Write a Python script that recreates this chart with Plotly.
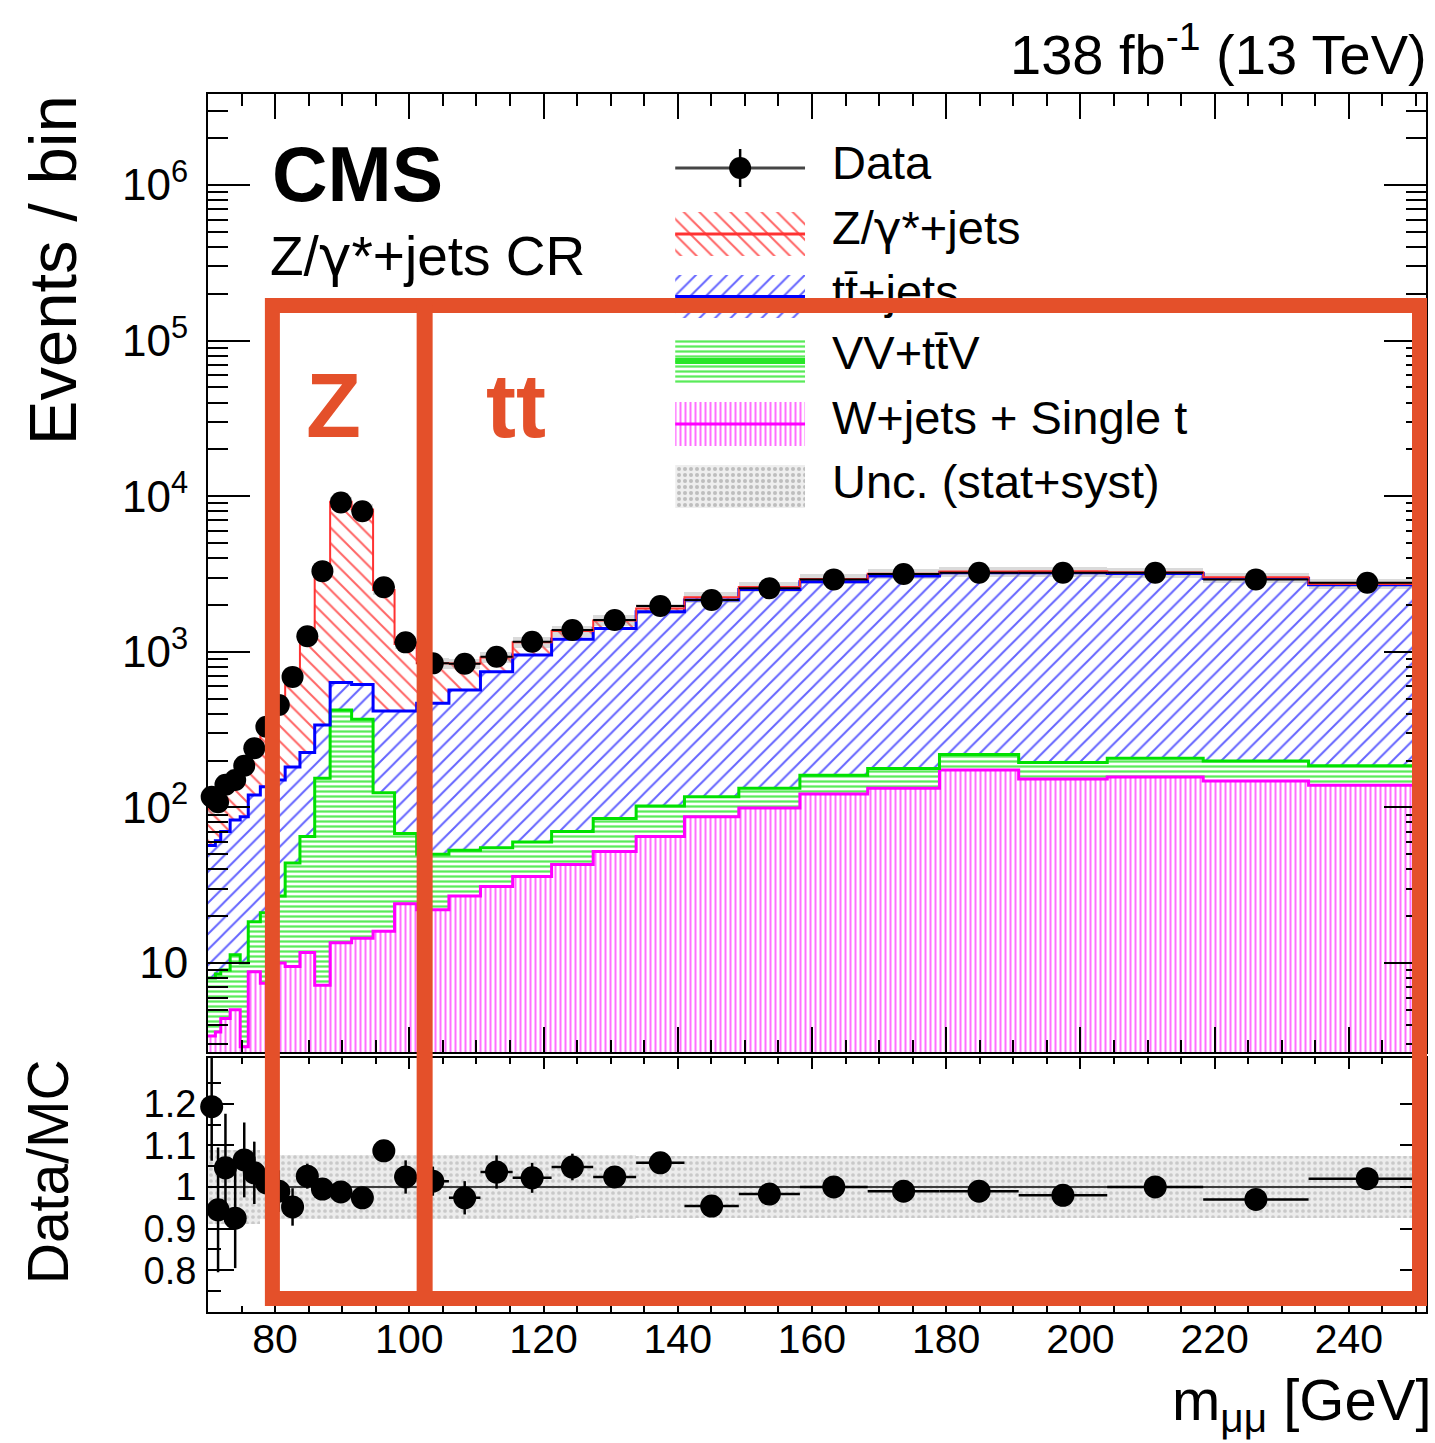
import plotly.graph_objects as go

# ---------------- values ----------------
bin_edges = [70.0, 71.1, 71.9, 73.3, 74.8, 76.0, 77.8, 79.6, 81.5, 83.7, 85.9,
             88.2, 91.4, 94.6, 97.8, 101.1, 105.9, 110.6, 115.4, 121.2, 127.4,
             133.8, 141.0, 149.1, 158.2, 168.3, 179.0, 190.8, 204.0, 218.3,
             234.0, 251.5]

data_events = [117, 108, 140, 150, 185, 240, 330, 455, 690, 1260,
               3300, 9100, 8000, 2600, 1150, 843, 838, 929, 1160, 1380,
               1600, 1970, 2150, 2560, 2920, 3160, 3220, 3220, 3220, 2920, 2780]

wjets_singlet = [3.4, 3.6, 4.4, 5.0, 2.9, 8.8, 7.4, 10, 9.5, 11.7,
                 7.2, 13.5, 14.4, 16, 24, 22, 27, 31, 36, 43,
                 52, 65, 87, 99, 122, 133, 174, 152, 157, 148, 139]

vv_ttv = [4.6, 4.9, 4.6, 6.3, 7.1, 9.6, 13.6, 17, 34.5, 53.3,
          146.8, 409.5, 353.6, 108, 44, 28, 26, 24, 24, 27,
          33, 37, 30, 34, 39, 45, 45, 42, 50, 51, 46]

ttbar_jets = [49, 52.5, 61, 71.7, 77, 101.6, 115, 123, 138, 160,
              185, 212, 248, 293, 349, 417, 516, 690, 895, 1133,
              1329, 1709, 2037, 2384, 2659, 2888, 3005, 3030, 2983, 2764, 2515]

zgamma_jets = [41, 53, 64, 79, 87, 112, 191, 310, 543, 1003,
               2978, 8575, 7598, 2083, 706, 376, 271, 175, 195, 157,
               176, 89, 86, 93, 120, 114, 56, 66, 50, 47, 30]

ratio_data_mc = [1.193, 0.945, 1.046, 0.925, 1.065, 1.034, 1.010, 0.99, 0.952, 1.026,
                 0.995, 0.988, 0.974, 1.087, 1.024, 1.014, 0.974, 1.036, 1.022, 1.048,
                 1.024, 1.058, 0.954, 0.983, 1.0, 0.99, 0.99, 0.98, 1.0, 0.97, 1.02]

ratio_err = [0.13, 0.15, 0.13, 0.12, 0.09, 0.075, 0.06, 0.05, 0.045, 0.03,
             0.02, 0.012, 0.012, 0.02, 0.04, 0.035, 0.04, 0.04, 0.036, 0.032,
             0.025, 0.02, 0.02, 0.018, 0.015, 0.012, 0.012, 0.012, 0.012, 0.012, 0.012]

mc_unc_rel = [0.09, 0.09, 0.09, 0.09, 0.09, 0.09, 0.078, 0.078, 0.078, 0.078,
              0.078, 0.078, 0.078, 0.078, 0.078, 0.078, 0.078, 0.078, 0.078, 0.078,
              0.078, 0.074, 0.074, 0.074, 0.074, 0.074, 0.074, 0.074, 0.074, 0.074, 0.074]

y_tick_vals = [10, 100, 1000, 10000, 100000, 1000000]
y_tick_text = ["10", "10<sup>2</sup>", "10<sup>3</sup>", "10<sup>4</sup>",
               "10<sup>5</sup>", "10<sup>6</sup>"]
ratio_tick_vals = [0.8, 0.9, 1.0, 1.1, 1.2]
ratio_tick_text = ["0.8", "0.9", "1", "1.1", "1.2"]

GAMMA = "<span style='font-family:DejaVu Sans'>γ</span>"
legend_labels = ["Data", "Z/" + GAMMA + "*+jets", "tt\u0304+jets", "VV+tt\u0304V",
                 "W+jets + Single t", "Unc. (stat+syst)"]

# ---------------- derived bin geometry ----------------
n = len(data_events)
centers = [(bin_edges[i] + bin_edges[i + 1]) / 2 for i in range(n)]
widths = [bin_edges[i + 1] - bin_edges[i] for i in range(n)]
half_w = [w / 2 for w in widths]

# ---------------- page geometry (pixels) ----------------
FIG_W, FIG_H = 1435, 1443
L, R, T, B = 208, 1428, 94, 1312
TOP_BOTTOM = 1052
RATIO_TOP = 1058
FONT = "Liberation Sans, Arial, Helvetica, sans-serif"
ORANGE = "#E4502A"


def pxx(x):
    return (x - L) / (R - L)


def pxy(y):
    return (B - y) / (B - T)


fig = go.Figure()

# ---------------- stacked histogram ----------------
stack = [
    (wjets_singlet, "|", "rgb(255,110,255)", "rgb(255,0,255)", 5, 0.4, 3),
    (vv_ttv, "-", "rgb(90,235,90)", "rgb(0,225,0)", 5, 0.45, 3),
    (ttbar_jets, "/", "rgb(100,100,255)", "rgb(0,0,255)", 11, 0.18, 3),
    (zgamma_jets, "\\", "rgb(255,100,100)", "rgb(255,50,50)", 11, 0.18, 2),
]
for vals, shape, hcol, lcol, size, sol, lw in stack:
    fig.add_trace(go.Bar(
        x=centers, y=vals, width=widths, xaxis="x", yaxis="y",
        marker=dict(color="white", line=dict(width=0),
                    pattern=dict(shape=shape, fgcolor=hcol, bgcolor="white",
                                 size=size, solidity=sol, fillmode="replace")),
        showlegend=False, hoverinfo="skip"))

cum = [0.0] * n
for vals, shape, hcol, lcol, size, sol, lw in stack:
    cum = [c + v for c, v in zip(cum, vals)]
    fig.add_trace(go.Scatter(
        x=bin_edges, y=cum + [cum[-1]], mode="lines", xaxis="x", yaxis="y",
        line=dict(color=lcol, width=lw, shape="hv"),
        showlegend=False, hoverinfo="skip"))
total_mc = cum

# MC uncertainty band on the stack
fig.add_trace(go.Bar(
    x=centers, y=[t * 2 * u for t, u in zip(total_mc, mc_unc_rel)],
    base=[t * (1 - u) for t, u in zip(total_mc, mc_unc_rel)],
    width=widths, xaxis="x", yaxis="y",
    marker=dict(color="rgba(150,150,150,0.35)", line=dict(width=0)),
    showlegend=False, hoverinfo="skip"))

# data points
fig.add_trace(go.Scatter(
    x=centers, y=data_events, mode="markers", xaxis="x", yaxis="y",
    marker=dict(color="black", size=22),
    error_x=dict(type="data", array=half_w, symmetric=True, width=0,
                 thickness=2, color="black"),
    cliponaxis=False, showlegend=False, hoverinfo="skip"))

# ---------------- ratio panel ----------------
fig.add_trace(go.Bar(
    x=centers, y=[2 * u for u in mc_unc_rel], base=[1 - u for u in mc_unc_rel],
    width=widths, xaxis="x2", yaxis="y2",
    marker=dict(color="#e9e9e9", line=dict(width=0),
                pattern=dict(shape=".", fgcolor="#c9c9c9", bgcolor="#ececec",
                             size=6, solidity=0.3, fillmode="replace")),
    showlegend=False, hoverinfo="skip"))
fig.add_trace(go.Scatter(
    x=[bin_edges[0], bin_edges[-1]], y=[1, 1], mode="lines", xaxis="x2", yaxis="y2",
    line=dict(color="rgb(60,60,60)", width=2), showlegend=False, hoverinfo="skip"))
fig.add_trace(go.Scatter(
    x=centers, y=ratio_data_mc, mode="markers", xaxis="x2", yaxis="y2",
    marker=dict(color="black", size=23),
    error_x=dict(type="data", array=half_w, symmetric=True, width=0,
                 thickness=2.5, color="black"),
    error_y=dict(type="data", array=ratio_err, symmetric=True, width=0,
                 thickness=2.5, color="black"),
    cliponaxis=False, showlegend=False, hoverinfo="skip"))

# ---------------- hand-made legend (overlay axes in pixel units) ----------------
SW_X0, SW_X1 = 676, 806
swatches = [
    (212, 256, "\\", "rgb(255,100,100)", 11, 0.18, "rgb(255,50,50)", 3),
    (275, 318, "/", "rgb(100,100,255)", 11, 0.18, "rgb(0,0,255)", 3),
    (339, 383, "-", "rgb(90,235,90)", 5, 0.45, "rgb(40,230,40)", 6),
    (402, 446, "|", "rgb(255,110,255)", 5, 0.4, "rgb(255,0,255)", 3),
    (465, 508, ".", "rgb(190,190,190)", 6, 0.35, None, 0),
]
for y0, y1, shape, fg, size, sol, lcol, lw in swatches:
    fig.add_trace(go.Scatter(
        x=[SW_X0, SW_X1, SW_X1, SW_X0, SW_X0], y=[y0, y0, y1, y1, y0],
        mode="none", fill="toself", fillcolor="white", xaxis="x3", yaxis="y3",
        fillpattern=dict(shape=shape, fgcolor=fg,
                         bgcolor="white" if shape != "." else "#eeeeee",
                         size=size, solidity=sol, fillmode="replace"),
        showlegend=False, hoverinfo="skip"))
    if lcol:
        ym = (y0 + y1) / 2
        fig.add_trace(go.Scatter(
            x=[SW_X0, SW_X1], y=[ym, ym], mode="lines", xaxis="x3", yaxis="y3",
            line=dict(color=lcol, width=lw), showlegend=False, hoverinfo="skip"))

fig.add_trace(go.Scatter(
    x=[SW_X0, SW_X1], y=[168, 168], mode="lines", xaxis="x3", yaxis="y3",
    line=dict(color="rgb(70,70,70)", width=3), showlegend=False, hoverinfo="skip"))
fig.add_trace(go.Scatter(
    x=[(SW_X0 + SW_X1) / 2], y=[168], mode="markers", xaxis="x3", yaxis="y3",
    marker=dict(color="black", size=22),
    error_y=dict(type="constant", value=19, width=0, thickness=2.5, color="black"),
    showlegend=False, hoverinfo="skip"))

legend_y = [167, 232, 296, 357, 422, 486]
fig.add_trace(go.Scatter(
    x=[833] * len(legend_labels), y=legend_y, mode="text", text=legend_labels,
    textposition="middle right", xaxis="x3", yaxis="y3",
    textfont=dict(family=FONT, size=47, color="black"),
    showlegend=False, hoverinfo="skip"))

# ---------------- axes ----------------
log_minor = [m * 10 ** k for k in range(0, 7) for m in range(2, 10)]
tick_common = dict(ticks="inside", tickwidth=2, tickcolor="black", showline=True,
                   linewidth=2, linecolor="black", mirror="allticks",
                   showgrid=False, zeroline=False)

fig.update_layout(
    width=FIG_W, height=FIG_H,
    margin=dict(l=L, r=FIG_W - R, t=T, b=FIG_H - B, pad=0),
    paper_bgcolor="white", plot_bgcolor="white",
    barmode="stack", bargap=0, showlegend=False,
    font=dict(family=FONT, color="black"),
    xaxis=dict(domain=[0, 1], anchor="y", range=[bin_edges[0], bin_edges[-1]],
               showticklabels=False, tick0=0, dtick=20, ticklen=25,
               minor=dict(ticks="inside", dtick=5, ticklen=12, tickwidth=2,
                          tickcolor="black"),
               **tick_common),
    yaxis=dict(domain=[pxy(TOP_BOTTOM), 1], anchor="x", type="log",
               range=[0.428, 6.585], tickmode="array", tickvals=y_tick_vals,
               ticktext=y_tick_text, ticklen=42, ticklabelstandoff=9,
               tickfont=dict(size=44, family=FONT),
               minor=dict(ticks="inside", tickmode="array", tickvals=log_minor,
                          ticklen=20, tickwidth=2, tickcolor="black"),
               **tick_common),
    xaxis2=dict(domain=[0, 1], anchor="y2", range=[bin_edges[0], bin_edges[-1]],
                tick0=0, dtick=20, ticklen=11, ticklabelstandoff=-10,
                tickfont=dict(size=41, family=FONT),
                minor=dict(ticks="inside", dtick=5, ticklen=6, tickwidth=2,
                           tickcolor="black"),
                **tick_common),
    yaxis2=dict(domain=[0, pxy(RATIO_TOP)], anchor="x2", range=[0.6995, 1.31],
                tickmode="array", tickvals=ratio_tick_vals, ticktext=ratio_tick_text,
                ticklen=26, ticklabelstandoff=2, tickfont=dict(size=38, family=FONT),
                minor=dict(ticks="inside", tickmode="array",
                           tickvals=[0.75, 0.85, 0.95, 1.05, 1.15, 1.25],
                           ticklen=13, tickwidth=2, tickcolor="black"),
                **tick_common),
    xaxis3=dict(overlaying="x", anchor="y3", range=[L, R], visible=False),
    yaxis3=dict(overlaying="y", anchor="x3", range=[TOP_BOTTOM, T], visible=False),
)

# ---------------- texts ----------------
ann = [
    dict(text="138 fb<sup>-1</sup> (13 TeV)", x=pxx(1431), y=pxy(50),
         xanchor="right", yanchor="middle", font=dict(size=56)),
    dict(text="<b>CMS</b>", x=pxx(270), y=pxy(174), xanchor="left",
         yanchor="middle", font=dict(size=77)),
    dict(text="Z/" + GAMMA + "*+jets CR", x=pxx(268), y=pxy(256), xanchor="left",
         yanchor="middle", font=dict(size=55)),
    dict(text="Events / bin", x=pxx(52), y=pxy(270), xanchor="center",
         yanchor="middle", textangle=-90, font=dict(size=67)),
    dict(text="Data/MC", x=pxx(48), y=pxy(1172), xanchor="center",
         yanchor="middle", textangle=-90, font=dict(size=57)),
    dict(text="m<sub>μμ</sub> [GeV]", x=pxx(1436), y=pxy(1404),
         xanchor="right", yanchor="middle", font=dict(size=58)),
    dict(text="<b>Z</b>", x=pxx(334), y=pxy(406), xanchor="center",
         yanchor="middle", font=dict(size=90, color=ORANGE)),
    dict(text="<b>tt</b>", x=pxx(517), y=pxy(406), xanchor="center",
         yanchor="middle", font=dict(size=90, color=ORANGE)),
]
for a in ann:
    a.update(xref="paper", yref="paper", showarrow=False)
    f = a.get("font", {})
    f.setdefault("family", FONT)
    f.setdefault("color", "black")
    a["font"] = f
fig.update_layout(annotations=ann)

# ---------------- orange highlight boxes ----------------
fig.update_layout(shapes=[
    dict(type="rect", xref="paper", yref="paper", x0=pxx(272.5), x1=pxx(1421.5),
         y0=pxy(1298.5), y1=pxy(305.5), line=dict(color=ORANGE, width=15),
         fillcolor="rgba(0,0,0,0)", layer="above"),
    dict(type="line", xref="paper", yref="paper", x0=pxx(425), x1=pxx(425),
         y0=pxy(1298.5), y1=pxy(305.5), line=dict(color=ORANGE, width=16),
         layer="above"),
])

fig.write_html("out.html",
               config={"displayModeBar": False},
               post_script="document.body.style.margin='0px';"
                           "document.body.style.overflow='hidden';")
